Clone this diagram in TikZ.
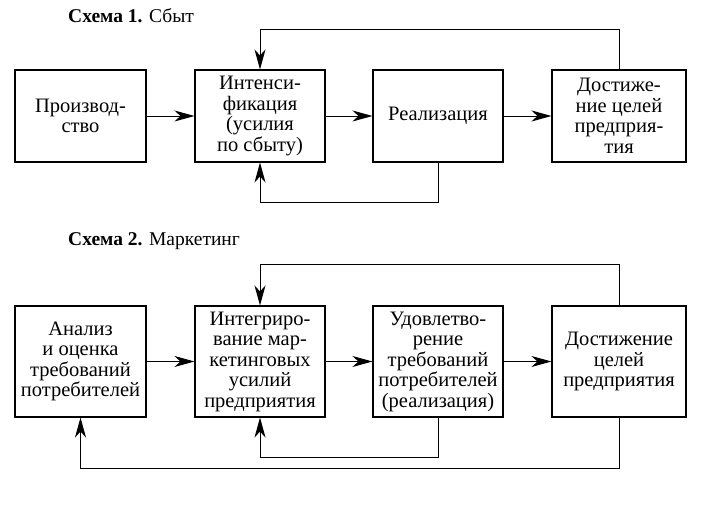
\documentclass[tikz,border=0pt]{standalone}
\usepackage{fontspec}
\setmainfont{Liberation Serif}
\usetikzlibrary{arrows.meta}
\tikzset{
  blok/.style={draw, line width=1.1pt, align=center, inner sep=0pt,
    font=\fontsize{20.5}{20.5}\selectfont},
  strelka/.style={-{Stealth[length=20pt, width=11pt, inset=6pt]}, line width=0.9pt},
  zagolovok/.style={anchor=base west, inner sep=0pt, font=\fontsize{19.5}{21}\selectfont}
}
\begin{document}
\begin{tikzpicture}[x=1pt, y=-1pt]
    \useasboundingbox (0,0) rectangle (713,513);

    % Схема 1
    \node[zagolovok] (t1) at (68,23) {\textbf{Схема 1.} Сбыт};
    \node[blok, minimum width=131pt, minimum height=92pt] (a1) at (80.5,116) {Производ-\\ство};
    \node[blok, minimum width=130pt, minimum height=92pt] (a2) at (260,116) {Интенси-\\фикация\\(усилия\\по сбыту)};
    \node[blok, minimum width=130pt, minimum height=92pt] (a3) at (438,116) {Реализация};
    \node[blok, minimum width=134pt, minimum height=92pt] (a4) at (619,116) {Достиже-\\ние целей\\предприя-\\тия};

    \foreach \i/\j in {a1/a2, a2/a3, a3/a4}
        \draw[strelka] (\i) -- (\j);

    \draw[strelka] (a4.north) -- ++(0,-40) -| (a2.north);
    \draw[strelka] (a3.south) -- ++(0,40) -| (a2.south);

    % Схема 2
    \node[zagolovok] (t2) at (68,246) {\textbf{Схема 2.} Маркетинг};
    \node[blok, minimum width=131pt, minimum height=111pt] (b1) at (80.5,361.5) {Анализ\\и оценка\\требований\\потребителей};
    \node[blok, minimum width=130pt, minimum height=111pt] (b2) at (260,361.5) {Интегриро-\\вание мар-\\кетинговых\\усилий\\предприятия};
    \node[blok, minimum width=130pt, minimum height=111pt] (b3) at (438,361.5) {Удовлетво-\\рение\\требований\\потребителей\\(реализация)};
    \node[blok, minimum width=134pt, minimum height=111pt] (b4) at (619,361.5) {Достижение\\целей\\предприятия};

    \foreach \i/\j in {b1/b2, b2/b3, b3/b4}
        \draw[strelka] (\i) -- (\j);

    \draw[strelka] (b4.north) -- ++(0,-41) -| (b2.north);
    \draw[strelka] (b3.south) -- ++(0,40) -| (b2.south);
    \draw[strelka] (b4.south) -- ++(0,51) -| (b1.south);
\end{tikzpicture}
\end{document}
